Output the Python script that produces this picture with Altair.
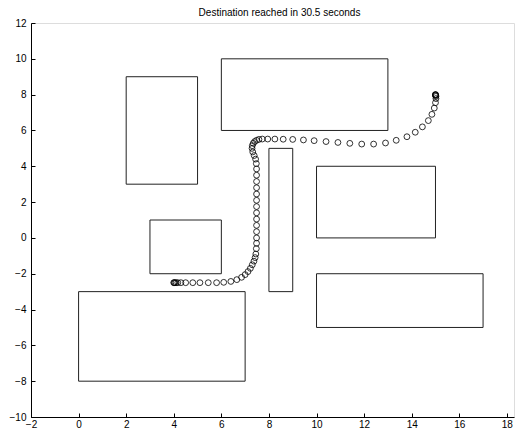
import altair as alt
import pandas as pd

# Obstacles (rectangles)
rect_x0 = [2, 6, 3, 8, 10, 0, 10]
rect_x1 = [5, 13, 6, 9, 15, 7, 17]
rect_y0 = [3, 6, -2, -3, 0, -8, -5]
rect_y1 = [9, 10, 1, 5, 4, -3, -2]

# Robot trajectory
path_x = [4.0, 4.02, 4.05, 4.1, 4.17, 4.3, 4.5, 4.8, 5.1, 5.45, 5.8, 6.1, 6.4, 6.65,
          6.85, 7.0, 7.12, 7.22, 7.3, 7.37, 7.42, 7.45, 7.47, 7.48, 7.48,
          7.48, 7.48, 7.48, 7.48, 7.48, 7.48, 7.48, 7.48, 7.48, 7.48, 7.48, 7.47,
          7.44, 7.38, 7.32, 7.29, 7.3, 7.34, 7.4, 7.48, 7.58, 7.72,
          7.95, 8.25, 8.6, 9.0, 9.45, 9.9, 10.4, 10.9, 11.4, 11.9, 12.4, 12.9,
          13.35, 13.8, 14.15, 14.45, 14.7, 14.85, 14.95, 15.0, 15.02, 15.02,
          15.01, 15.0, 15.0, 15.0]
path_y = [-2.5, -2.5, -2.5, -2.5, -2.5, -2.5, -2.5, -2.5, -2.5, -2.5, -2.5, -2.48, -2.43, -2.33,
          -2.2, -2.05, -1.88, -1.7, -1.5, -1.3, -1.1, -0.9, -0.6, -0.3, 0.0,
          0.35, 0.7, 1.05, 1.4, 1.75, 2.1, 2.45, 2.8, 3.15, 3.5, 3.85, 4.15,
          4.4, 4.6, 4.8, 5.0, 5.15, 5.28, 5.38, 5.45, 5.5, 5.52,
          5.52, 5.52, 5.51, 5.5, 5.47, 5.43, 5.38, 5.33, 5.28, 5.24, 5.24, 5.3,
          5.45, 5.65, 5.9, 6.2, 6.55, 6.9, 7.25, 7.55, 7.78, 7.9,
          7.95, 7.98, 8.0, 8.0]

x_ticks = [-2, 0, 2, 4, 6, 8, 10, 12, 14, 16, 18]
y_ticks = [-10, -8, -6, -4, -2, 0, 2, 4, 6, 8, 10, 12]

rects = pd.DataFrame({"x0": rect_x0, "x1": rect_x1, "y0": rect_y0, "y1": rect_y1})
path = pd.DataFrame({"x": path_x, "y": path_y})

W, H = 483, 394
FONT = "Liberation Sans"

xscale = alt.Scale(domain=[-2, 18.3], nice=False, zero=False)
yscale = alt.Scale(domain=[-10, 12], nice=False, zero=False)

x_axis_main = alt.Axis(values=x_ticks, title=None, grid=False, tickSize=0,
                       labelPadding=2, labelFont=FONT, labelFontSize=10,
                       labelColor="black", domainColor="black", domainWidth=1,
                       labelFlush=False)
y_axis_main = alt.Axis(values=y_ticks, title=None, grid=False, tickSize=0,
                       labelPadding=5, labelFont=FONT, labelFontSize=10,
                       labelColor="black", domainColor="black", domainWidth=1,
                       labelFlush=False)

rect_layer = alt.Chart(rects).mark_rect(
    fill=None, fillOpacity=0, stroke="#222222", strokeWidth=1
).encode(
    x=alt.X("x0:Q", scale=xscale, axis=x_axis_main),
    x2="x1:Q",
    y=alt.Y("y0:Q", scale=yscale, axis=y_axis_main),
    y2="y1:Q",
)

# Inward ticks: extra axes moved onto the main axis lines
x_axis_ticks = alt.Axis(orient="top", offset=-H, values=x_ticks, title=None,
                        grid=False, labels=False, domain=False, tickSize=4,
                        tickColor="black", tickWidth=1)
y_axis_ticks = alt.Axis(orient="right", offset=-W, values=y_ticks, title=None,
                        grid=False, labels=False, domain=False, tickSize=4,
                        tickColor="black", tickWidth=1)

point_layer = alt.Chart(path).mark_point(
    shape="circle", filled=False, stroke="black", strokeWidth=0.8, size=34, opacity=1
).encode(
    x=alt.X("x:Q", scale=xscale, axis=x_axis_ticks),
    y=alt.Y("y:Q", scale=yscale, axis=y_axis_ticks),
)

chart = alt.layer(rect_layer, point_layer).resolve_axis(
    x="independent", y="independent"
).properties(
    width=W, height=H,
    title=alt.TitleParams("Destination reached in 30.5 seconds", font=FONT,
                          fontSize=10, fontWeight="normal", color="black",
                          anchor="middle", offset=0, dx=7),
    autosize=alt.AutoSizeParams(type="none"),
    padding={"left": 23, "top": 15, "right": 4, "bottom": 14},
).configure_view(stroke=None).configure(background="white")

chart.save("out.html", embed_options={"renderer": "svg", "actions": False})
